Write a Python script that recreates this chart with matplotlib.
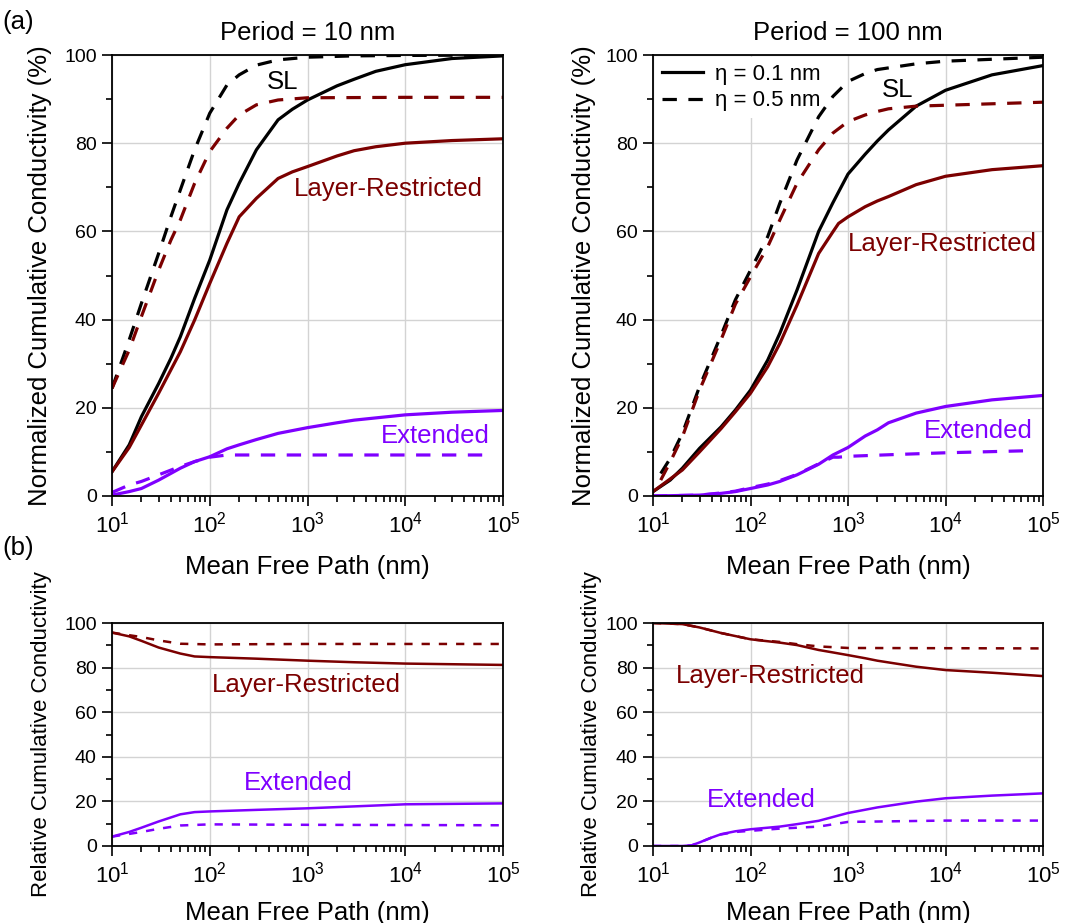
import numpy as np
import matplotlib
matplotlib.use("Agg")
import matplotlib.pyplot as plt
from matplotlib.ticker import MultipleLocator, LogLocator, NullFormatter

plt.rcParams['font.family'] = ['Liberation Sans', 'DejaVu Sans']
plt.rcParams['mathtext.fontset'] = 'custom'
plt.rcParams['mathtext.rm'] = 'Liberation Sans'
plt.rcParams['mathtext.default'] = 'regular'

BLACK = '#000000'
RED = '#7b0000'
PURPLE = '#7f00ff'

# ---- (a) Period = 10 nm, normalized cumulative conductivity (%)
a10_sl_x1 = [10, 15, 20, 30, 40, 50, 70, 100, 150, 200, 300, 500, 700, 1000, 2000, 3000, 5000, 1e4, 3e4, 1e5]
a10_sl_y1 = [5.5, 11.6, 18, 25.5, 31.2, 36.1, 44.8, 53.5, 64.9, 70.9, 78.5, 85.3, 87.7, 89.8, 93, 94.5, 96.3, 97.8, 99.2, 99.8]
a10_sl_x5 = [10, 15, 20, 30, 40, 50, 70, 100, 150, 200, 300, 500, 1000, 3000, 1e4, 1e5]
a10_sl_y5 = [24.4, 35.4, 43.7, 55, 63.3, 69.4, 78.5, 86.8, 93.2, 95.5, 97.7, 98.9, 99.5, 99.8, 99.9, 100]
a10_lr_x1 = [10, 15, 20, 30, 50, 70, 100, 150, 200, 300, 500, 700, 1000, 2000, 3000, 5000, 1e4, 3e4, 1e5]
a10_lr_y1 = [5.5, 11, 16.1, 23.3, 32.7, 39.9, 48.2, 57.3, 63.3, 67.5, 72, 73.5, 74.7, 77.1, 78.3, 79.2, 80, 80.6, 81]
a10_lr_x5 = [10, 15, 20, 30, 40, 50, 70, 100, 150, 200, 300, 500, 1000, 1e4, 1e5]
a10_lr_y5 = [24.4, 33.1, 40.7, 51.2, 58, 62.6, 70.9, 78.1, 83.4, 86.4, 88.7, 89.8, 90.3, 90.4, 90.4]
a10_ex_x1 = [10, 15, 20, 30, 50, 70, 100, 150, 200, 300, 500, 1000, 2000, 3000, 1e4, 3e4, 1e5]
a10_ex_y1 = [0.2, 1, 1.7, 3.6, 6.3, 7.8, 8.9, 10.7, 11.6, 12.8, 14.2, 15.5, 16.6, 17.2, 18.4, 19, 19.4]
a10_ex_x5 = [10, 15, 20, 30, 50, 70, 100, 150, 200, 500, 1e4, 8e4]
a10_ex_y5 = [0.8, 2.5, 3.3, 4.8, 6.7, 7.8, 8.8, 9.3, 9.3, 9.3, 9.3, 9.3]

# ---- (a) Period = 100 nm
a100_sl_x1 = [10, 15, 20, 30, 50, 70, 100, 150, 200, 300, 500, 700, 1000, 1500, 2000, 2600, 5000, 1e4, 3e4, 1e5]
a100_sl_y1 = [1, 3.6, 6.3, 10.8, 15.7, 19.5, 24, 30.8, 36.9, 46.7, 60, 66.5, 73, 77.5, 80.5, 83, 88.4, 92, 95.5, 97.6]
a100_sl_x5 = [12, 15, 20, 30, 50, 70, 100, 150, 200, 300, 500, 700, 1000, 1500, 2000, 5000, 1e4, 1e5]
a100_sl_y5 = [5.1, 8.5, 14.2, 24.8, 36.5, 44.5, 51.2, 58.8, 66.4, 76.2, 86, 90.6, 94, 95.8, 96.7, 98, 98.6, 99.5]
a100_lr_x1 = [10, 20, 30, 50, 70, 100, 150, 200, 300, 500, 700, 800, 1000, 1500, 2000, 2600, 5000, 1e4, 3e4, 1e5]
a100_lr_y1 = [1, 5.9, 10, 15.3, 19.1, 23.3, 29.3, 34.6, 43.3, 55, 59.9, 61.8, 63.3, 65.6, 66.9, 67.9, 70.6, 72.5, 74, 74.9]
a100_lr_x5 = [12, 15, 20, 30, 50, 70, 100, 150, 200, 300, 500, 700, 1000, 1500, 2000, 2600, 5000, 1e5]
a100_lr_y5 = [3.6, 7.7, 13.4, 24, 35.5, 43.5, 49.7, 56.5, 62.6, 70.9, 78.5, 82.3, 84.9, 86.4, 87.2, 87.8, 88.4, 89.3]
a100_ex_x1 = [10, 30, 50, 70, 100, 150, 200, 300, 500, 700, 1000, 1500, 2000, 2600, 5000, 1e4, 3e4, 1e5]
a100_ex_y1 = [0, 0.2, 0.6, 1, 1.7, 2.5, 3.3, 4.8, 7.2, 9.3, 11, 13.6, 15, 16.6, 18.8, 20.3, 21.8, 22.8]
a100_ex_x5 = [10, 30, 50, 70, 100, 150, 200, 300, 500, 700, 800, 1000, 3000, 1e4, 8e4]
a100_ex_y5 = [0, 0.2, 0.7, 1.1, 1.9, 2.7, 3.5, 4.9, 7.3, 8.8, 8.8, 9.0, 9.4, 9.8, 10.3]

# ---- (b) Period = 10 nm, relative cumulative conductivity
b10_lr_x1 = [10, 15, 20, 30, 50, 70, 100, 300, 1000, 3000, 1e4, 1e5]
b10_lr_y1 = [95.7, 94, 92, 89, 86.3, 85, 84.7, 84, 83.1, 82.4, 81.8, 81.2]
b10_lr_x5 = [10, 20, 30, 50, 100, 1000, 1e5]
b10_lr_y5 = [95.7, 93.7, 92.2, 90.7, 90.4, 90.6, 90.6]
b10_ex_x1 = [10, 15, 20, 30, 50, 70, 100, 300, 1000, 1e4, 1e5]
b10_ex_y1 = [4.2, 6.3, 8.2, 11, 14.2, 15.2, 15.5, 16.2, 16.9, 18.7, 19.1]
b10_ex_x5 = [10, 20, 30, 50, 100, 1000, 1e5]
b10_ex_y5 = [4.2, 6.3, 7.7, 9.2, 9.7, 9.5, 9.3]

# ---- (b) Period = 100 nm
b100_lr_x1 = [10, 20, 30, 50, 100, 200, 300, 500, 700, 1000, 1500, 2000, 3000, 5000, 1e4, 3e4, 1e5]
b100_lr_y1 = [100, 99.5, 98, 95.5, 92.7, 91.2, 90.1, 87.9, 86.8, 85.6, 84.2, 83.1, 81.9, 80.4, 78.9, 77.7, 76.2]
b100_lr_x5 = [10, 20, 30, 50, 100, 200, 300, 500, 1000, 1e5]
b100_lr_y5 = [100, 99.5, 98, 95.5, 92.7, 91.5, 90.5, 89.5, 88.8, 88.6]
b100_ex_x1 = [10, 20, 25, 30, 40, 50, 70, 100, 200, 300, 500, 1000, 2000, 5000, 1e4, 3e4, 1e5]
b100_ex_y1 = [0, 0, 0.3, 1.6, 3.8, 5.3, 6.6, 7.5, 8.7, 9.8, 11.3, 14.8, 17.3, 19.9, 21.4, 22.6, 23.6]
b100_ex_x5 = [10, 20, 25, 30, 40, 50, 70, 100, 200, 500, 1000, 1e4, 1e5]
b100_ex_y5 = [0, 0, 0.3, 1.6, 3.8, 5.2, 6.3, 6.8, 7.8, 8.7, 10.8, 11.4, 11.4]

fig = plt.figure(figsize=(10.65, 9.23), dpi=100)
W, H = 1065, 923


def make_ax(x0, x1, y0, y1):
    return fig.add_axes([x0 / W, 1 - y1 / H, (x1 - x0) / W, (y1 - y0) / H])


def style(ax, ylabel, ylab_x, top):
    ax.set_xscale('log')
    ax.set_xlim(10, 1e5)
    ax.set_ylim(0, 100)
    ax.xaxis.set_major_locator(LogLocator(base=10, numticks=10))
    ax.xaxis.set_minor_locator(LogLocator(base=10, subs=np.arange(2, 10), numticks=10))
    ax.xaxis.set_minor_formatter(NullFormatter())
    ax.yaxis.set_major_locator(MultipleLocator(20))
    ax.yaxis.set_minor_locator(MultipleLocator(10))
    ax.grid(True, which='major', color='#d3d3d3', lw=1.0, zorder=0)
    ax.set_axisbelow(True)
    ax.tick_params(which='both', direction='out', width=1.2,
                   top=False, right=False, pad=4)
    ax.tick_params(axis='y', labelsize=14)
    ax.tick_params(axis='x', labelsize=16)
    ax.tick_params(which='major', length=7)
    ax.tick_params(which='minor', length=4)
    for s in ax.spines.values():
        s.set_linewidth(1.3)
    ax.set_xlabel('Mean Free Path (nm)', fontsize=18.5)
    ax.set_ylabel(ylabel, fontsize=18.5 if top else 16)
    ax.yaxis.set_label_coords(ylab_x, 0.5)
    ax.xaxis.labelpad = 13 if top else 10


lw_top = 2.3
dash_top = (4.5, 3.6)
ax1 = make_ax(112, 503, 55, 496)
ax1.plot(a10_sl_x1, a10_sl_y1, color=BLACK, lw=lw_top)
ax1.plot(a10_sl_x5, a10_sl_y5, color=BLACK, lw=lw_top, dashes=dash_top)
ax1.plot(a10_lr_x1, a10_lr_y1, color=RED, lw=lw_top)
ax1.plot(a10_lr_x5, a10_lr_y5, color=RED, lw=lw_top, dashes=dash_top)
ax1.plot(a10_ex_x1, a10_ex_y1, color=PURPLE, lw=lw_top)
ax1.plot(a10_ex_x5, a10_ex_y5, color=PURPLE, lw=lw_top, dashes=dash_top)
style(ax1, 'Normalized Cumulative Conductivity (%)', -0.153, True)
ax1.set_title('Period = 10 nm', fontsize=18.5, pad=11)
ax1.text(0.435, 0.939, 'SL', transform=ax1.transAxes, fontsize=18.5, ha='center', va='center', color=BLACK)
ax1.text(0.708, 0.696, 'Layer-Restricted', transform=ax1.transAxes, fontsize=18.5, ha='center', va='center', color=RED)
ax1.text(0.826, 0.136, 'Extended', transform=ax1.transAxes, fontsize=18.5, ha='center', va='center', color=PURPLE)

ax2 = make_ax(653, 1043, 55, 496)
h1, = ax2.plot(a100_sl_x1, a100_sl_y1, color=BLACK, lw=lw_top, label='η = 0.1 nm')
h2, = ax2.plot(a100_sl_x5, a100_sl_y5, color=BLACK, lw=lw_top, dashes=dash_top, label='η = 0.5 nm')
ax2.plot(a100_lr_x1, a100_lr_y1, color=RED, lw=lw_top)
ax2.plot(a100_lr_x5, a100_lr_y5, color=RED, lw=lw_top, dashes=dash_top)
ax2.plot(a100_ex_x1, a100_ex_y1, color=PURPLE, lw=lw_top)
ax2.plot(a100_ex_x5, a100_ex_y5, color=PURPLE, lw=lw_top, dashes=dash_top)
style(ax2, 'Normalized Cumulative Conductivity (%)', -0.146, True)
ax2.set_title('Period = 100 nm', fontsize=18.5, pad=11)
leg = ax2.legend(handles=[h1, h2], loc='upper left', fontsize=16, frameon=True,
                 handlelength=1.85, handletextpad=0.55, labelspacing=0.25,
                 borderpad=0.3, borderaxespad=0.1, fancybox=False)
leg.get_frame().set_edgecolor('none')
leg.get_frame().set_facecolor('white')
leg.get_frame().set_alpha(1)
leg.set_zorder(1)  # hide the grid behind it, but keep the curves on top
ax2.text(0.628, 0.921, 'SL', transform=ax2.transAxes, fontsize=18.5, ha='center', va='center', color=BLACK)
ax2.text(0.741, 0.571, 'Layer-Restricted', transform=ax2.transAxes, fontsize=18.5, ha='center', va='center', color=RED)
ax2.text(0.833, 0.147, 'Extended', transform=ax2.transAxes, fontsize=18.5, ha='center', va='center', color=PURPLE)

lw_bot = 1.8
dash_bot = (3.3, 3.6)
ax3 = make_ax(112, 503, 623, 846)
ax3.plot(b10_lr_x1, b10_lr_y1, color=RED, lw=lw_bot)
ax3.plot(b10_lr_x5, b10_lr_y5, color=RED, lw=lw_bot, dashes=dash_bot)
ax3.plot(b10_ex_x1, b10_ex_y1, color=PURPLE, lw=lw_bot)
ax3.plot(b10_ex_x5, b10_ex_y5, color=PURPLE, lw=lw_bot, dashes=dash_bot)
style(ax3, 'Relative Cumulative Conductivity', -0.153, False)
ax3.text(0.496, 0.722, 'Layer-Restricted', transform=ax3.transAxes, fontsize=18.5, ha='center', va='center', color=RED)
ax3.text(0.476, 0.283, 'Extended', transform=ax3.transAxes, fontsize=18.5, ha='center', va='center', color=PURPLE)

ax4 = make_ax(653, 1043, 623, 846)
ax4.plot(b100_lr_x1, b100_lr_y1, color=RED, lw=lw_bot)
ax4.plot(b100_lr_x5, b100_lr_y5, color=RED, lw=lw_bot, dashes=dash_bot)
ax4.plot(b100_ex_x1, b100_ex_y1, color=PURPLE, lw=lw_bot)
ax4.plot(b100_ex_x5, b100_ex_y5, color=PURPLE, lw=lw_bot, dashes=dash_bot)
style(ax4, 'Relative Cumulative Conductivity', -0.131, False)
ax4.text(0.30, 0.762, 'Layer-Restricted', transform=ax4.transAxes, fontsize=18.5, ha='center', va='center', color=RED)
ax4.text(0.279, 0.206, 'Extended', transform=ax4.transAxes, fontsize=18.5, ha='center', va='center', color=PURPLE)

fig.text(18 / W, 1 - 22 / H, '(a)', fontsize=18.5, ha='center', va='center')
fig.text(18 / W, 1 - 548 / H, '(b)', fontsize=18.5, ha='center', va='center')

fig.savefig('out.png', dpi=100)
